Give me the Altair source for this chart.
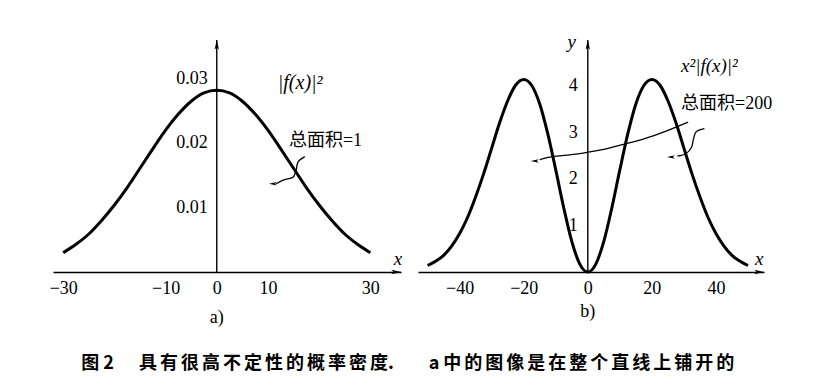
import altair as alt
import pandas as pd

# ---------------- data ----------------
# panel a: |f(x)|^2
xa = [-30, -27.5, -25, -22.5, -20, -17.5, -15, -12.5, -10, -7.5, -5, -2.5, 0,
      2.5, 5, 7.5, 10, 12.5, 15, 17.5, 20, 22.5, 25, 27.5, 30]
ya = [0.0030, 0.0043, 0.0059, 0.0080, 0.0104, 0.0131, 0.0161, 0.0191, 0.0220, 0.0245, 0.0265, 0.0278, 0.0282,
      0.0278, 0.0265, 0.0245, 0.0220, 0.0191, 0.0161, 0.0131, 0.0104, 0.0080, 0.0059, 0.0043, 0.0030]

# panel b: x^2 |f(x)|^2
xb = [-50, -47.5, -45, -42.5, -40, -37.5, -35, -32.5, -30, -27.5, -25, -22.5, -20, -17.5, -15, -12.5,
      -10, -7.5, -5, -2.5, 0, 2.5, 5, 7.5, 10, 12.5, 15, 17.5, 20, 22.5, 25, 27.5, 30, 32.5, 35,
      37.5, 40, 42.5, 45, 47.5, 50]
yb = [0.14, 0.23, 0.36, 0.56, 0.83, 1.18, 1.62, 2.12, 2.67, 3.22, 3.69, 4.03, 4.15, 4.02, 3.62, 2.98,
      2.20, 1.38, 0.66, 0.17, 0.0, 0.17, 0.66, 1.38, 2.20, 2.98, 3.62, 4.02, 4.15, 4.03, 3.69, 3.22,
      2.67, 2.12, 1.62, 1.18, 0.83, 0.56, 0.36, 0.23, 0.14]

a_xticks = [-30, -10, 0, 10, 30]
a_yticks = [0.01, 0.02, 0.03]
b_xticks = [-40, -20, 0, 20, 40]
b_yticks = [1, 2, 3, 4]

a_xdom = [-32, 36]
a_ydom = [0, 0.036]
b_xdom = [-53, 55]
b_ydom = [0, 5.0]

# annotation leader lines (data coordinates)
a_lead_x = [17.2, 15.9, 15.5, 14.9, 13.1, 11.6]
a_lead_y = [0.0179, 0.0171, 0.0158, 0.0147, 0.0143, 0.0137]
a_tip = (11.0, 0.0137)

b_lead1_x = [31.3, 23.8, 17.5, 10.4, 4.1, -3.7, -11.5, -15.0]
b_lead1_y = [3.23, 3.02, 2.87, 2.74, 2.63, 2.54, 2.48, 2.42]
b_tip1 = (-16.5, 2.39)
b_lead2_x = [36.4, 33.8, 33.0, 32.4, 30.6, 28.0]
b_lead2_y = [3.09, 3.02, 2.87, 2.69, 2.55, 2.50]
b_tip2 = (26.0, 2.48)

SERIF = "Liberation Serif, Noto Sans CJK SC"
CJK = "Noto Sans CJK SC"
ARROW_R = "M 1 0 L -0.9 -0.42 L -0.45 0 L -0.9 0.42 Z"
ARROW_U = "M 0 -1 L 0.42 0.9 L 0 0.45 L -0.42 0.9 Z"
ARROW_L = "M -1 0 L 0.9 -0.42 L 0.45 0 L 0.9 0.42 Z"


def panel(xs, ys, xdom, ydom, xticks, yticks, yfmt, w, h, lead_list, tips, texts, ylabel_dx):
    xsc = alt.Scale(domain=xdom, nice=False, zero=False)
    ysc = alt.Scale(domain=ydom, nice=False, zero=False)
    xax = alt.Axis(values=xticks, format="d", title=None, grid=False, ticks=False,
                   domainColor="black", domainWidth=1.4, labelFont="Liberation Serif",
                   labelFontSize=18, labelColor="black", labelPadding=7, labelFlush=False)
    curve = alt.Chart(pd.DataFrame({"x": xs, "y": ys})).mark_line(
        color="black", strokeWidth=3, interpolate="monotone"
    ).encode(x=alt.X("x:Q", scale=xsc, axis=xax), y=alt.Y("y:Q", scale=ysc, axis=None))

    yaxis = alt.Chart(pd.DataFrame({"x": [0], "y": [ydom[0]], "y2": [ydom[1]]})).mark_rule(
        color="black", strokeWidth=1.4
    ).encode(x=alt.X("x:Q", scale=xsc), y=alt.Y("y:Q", scale=ysc), y2="y2:Q")

    ylab = alt.Chart(pd.DataFrame({"x": [0] * len(yticks), "y": yticks})).mark_text(
        align="right", baseline="middle", dx=ylabel_dx, font="Liberation Serif", fontSize=18, color="black"
    ).encode(x=alt.X("x:Q", scale=xsc), y=alt.Y("y:Q", scale=ysc), text=alt.Text("y:Q", format=yfmt))

    xspan = xdom[1] - xdom[0]
    yspan = ydom[1] - ydom[0]
    arrows = alt.Chart(pd.DataFrame({
        "x": [xdom[1] - xspan * 5 / w, 0],
        "y": [0, ydom[1] - yspan * 5 / h],
        "s": [ARROW_R, ARROW_U],
    })).mark_point(filled=True, color="black", opacity=1, size=110).encode(
        x=alt.X("x:Q", scale=xsc), y=alt.Y("y:Q", scale=ysc),
        shape=alt.Shape("s:N", scale=None))

    layers = [curve, yaxis, ylab, arrows]
    for i, (lx, ly) in enumerate(lead_list):
        layers.append(alt.Chart(pd.DataFrame({"x": lx, "y": ly, "o": list(range(len(lx)))})).mark_line(
            color="black", strokeWidth=1.3, interpolate="catmull-rom"
        ).encode(x=alt.X("x:Q", scale=xsc), y=alt.Y("y:Q", scale=ysc), order="o:O"))
    layers.append(alt.Chart(pd.DataFrame({"x": [t[0] for t in tips], "y": [t[1] for t in tips]})).mark_point(
        filled=True, color="black", opacity=1, size=70, shape=ARROW_L
    ).encode(x=alt.X("x:Q", scale=xsc), y=alt.Y("y:Q", scale=ysc)))

    for (tx, ty, txt, font, size, style, weight, align) in texts:
        layers.append(alt.Chart(pd.DataFrame({"x": [tx], "y": [ty], "t": [txt]})).mark_text(
            align=align, baseline="middle", font=font, fontSize=size, fontStyle=style,
            fontWeight=weight, color="black"
        ).encode(x=alt.X("x:Q", scale=xsc), y=alt.Y("y:Q", scale=ysc), text="t:N"))

    return alt.layer(*layers).properties(width=w, height=h)


S = "\u2006"
cap1 = "图 2"
cap2 = S.join("具有很高不定性的概率密度") + "."
cap3 = "a " + S.join("中的图像是在整个直线上铺开的")

texts_a = [
    (16.3, 0.0293, "|f(x)|²", "Liberation Serif", 20, "italic", "normal", "center"),
    (14.1, 0.0204, "总面积=1", SERIF, 18, "normal", "normal", "left"),
    (35.4, 0.0020, "x", "Liberation Serif", 19, "italic", "normal", "center"),
    (0.0, -0.0072, "a)", "Liberation Serif", 18, "normal", "normal", "center"),
    (-26.5, -0.0143, cap1, CJK, 18, "normal", "bold", "left"),
    (-15.2, -0.0143, cap2, CJK, 18, "normal", "bold", "left"),
    (41.4, -0.0143, cap3, CJK, 18, "normal", "bold", "left"),
]
texts_b = [
    (-5.0, 4.95, "y", "Liberation Serif", 19, "italic", "normal", "center"),
    (53.5, 0.29, "x", "Liberation Serif", 19, "italic", "normal", "center"),
    (29.1, 4.45, "x²|f(x)|²", "Liberation Serif", 19, "italic", "normal", "left"),
    (29.1, 3.63, "总面积=200", SERIF, 18, "normal", "normal", "left"),
    (0.0, -0.86, "b)", "Liberation Serif", 18, "normal", "normal", "center"),
]

pa = panel(xa, ya, a_xdom, a_ydom, a_xticks, a_yticks, ".2f", 348, 232,
           [(a_lead_x, a_lead_y)], [a_tip], texts_a, -9)
pb = panel(xb, yb, b_xdom, b_ydom, b_xticks, b_yticks, "d", 346, 232,
           [(b_lead1_x, b_lead1_y), (b_lead2_x, b_lead2_y)], [b_tip1, b_tip2], texts_b, -10)

chart = alt.hconcat(pa, pb, spacing=17, bounds="flush").properties(
    padding={"left": 41, "top": 25, "right": 5, "bottom": 5},
    background="white",
).configure_view(stroke=None)

chart.save("out.html", embed_options={"renderer": "svg", "actions": False})
